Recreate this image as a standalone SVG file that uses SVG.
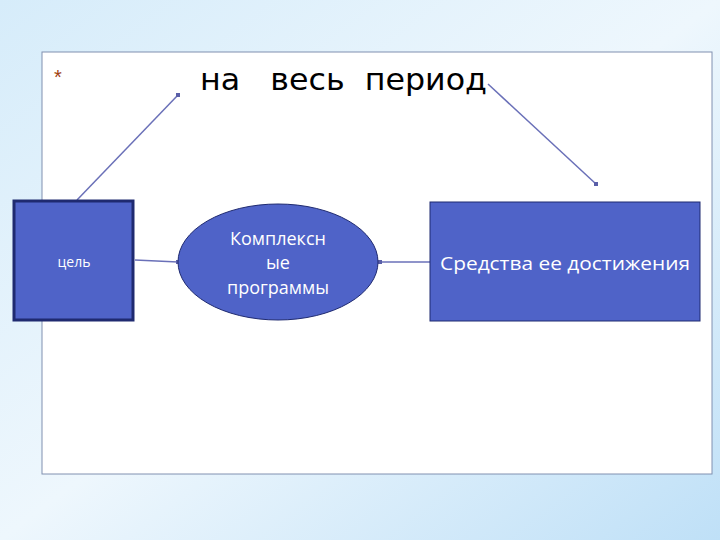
<svg xmlns="http://www.w3.org/2000/svg" width="720" height="540" viewBox="0 0 720 540">
<defs>
<linearGradient id="bg" x1="0" y1="0" x2="1" y2="1">
<stop offset="0" stop-color="#d6ecfa"/><stop offset="0.5" stop-color="#eef7fd"/><stop offset="1" stop-color="#bfe0f7"/>
</linearGradient>
<marker id="dot" viewBox="0 0 4 4" refX="2" refY="2" markerWidth="4" markerHeight="4" markerUnits="userSpaceOnUse"><rect width="4" height="4" fill="#5a5fa8"/></marker>
</defs>
<style>
.ln{stroke:#6a70b8;stroke-width:1.5;fill:none}
.wt{fill:#fff;font-family:"Open Sans","DejaVu Sans",sans-serif}
</style>
<rect width="720" height="540" fill="url(#bg)"/>
<rect x="42" y="52" width="670" height="422" fill="#fff" stroke="#8090b0" stroke-width="1"/>
<text x="54" y="84" font-family="Liberation Sans,sans-serif" font-size="20" fill="#a04010">*</text>
<text x="200" y="90" font-family="DejaVu Sans,sans-serif" font-size="30" fill="#000" xml:space="preserve" textLength="287" lengthAdjust="spacingAndGlyphs">на   весь  период</text>
<g id="connectors">
<line class="ln" x1="77" y1="200" x2="178" y2="95" marker-end="url(#dot)"/>
<line class="ln" x1="488" y1="84" x2="596" y2="184" marker-end="url(#dot)"/>
<line class="ln" x1="135" y1="260" x2="178" y2="262" marker-end="url(#dot)"/>
<line class="ln" x1="430" y1="262" x2="380" y2="262" marker-end="url(#dot)"/>
</g>
<g id="goal">
<rect x="14" y="201" width="119" height="119" fill="#4f63c8" stroke="#1f2a70" stroke-width="3"/>
<text class="wt" x="74" y="267" font-size="14" text-anchor="middle">цель</text>
</g>
<g id="programs">
<ellipse cx="278" cy="262" rx="100" ry="58" fill="#4f63c8" stroke="#1f2a70" stroke-width="1"/>
<text class="wt" font-size="18" text-anchor="middle"><tspan x="278" y="245">Комплексн</tspan><tspan x="278" y="269">ые</tspan><tspan x="278" y="294">программы</tspan></text>
</g>
<g id="means">
<rect x="430" y="202" width="270" height="119" fill="#4f63c8" stroke="#1f2a70" stroke-width="1"/>
<text class="wt" x="440" y="270" font-size="18" textLength="250" lengthAdjust="spacingAndGlyphs">Средства ее достижения</text>
</g>
</svg>
